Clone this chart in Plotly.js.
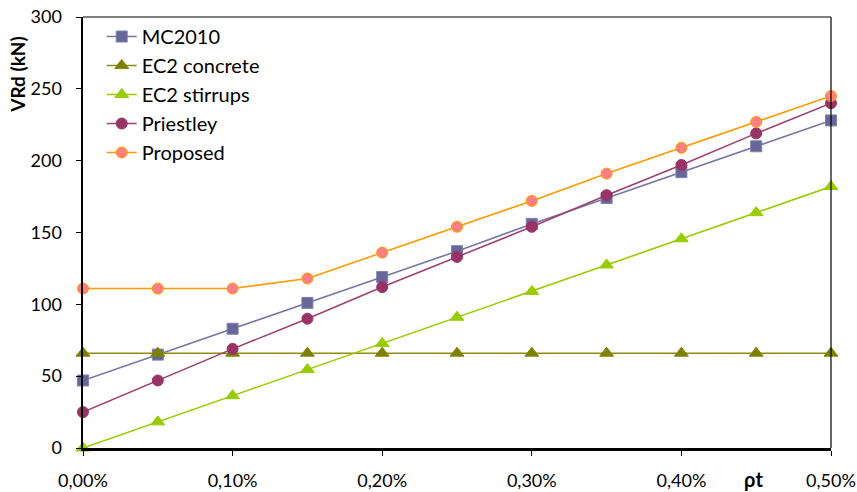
<!DOCTYPE html>
<html><head><meta charset="utf-8">
<script src="https://cdn.plot.ly/plotly-3.0.1.min.js"></script>
<style>body{margin:0;background:#fff}#chart{width:857px;height:492px}</style>
</head><body><div id="chart"></div>
<script>
const rho = [0, 0.05, 0.10, 0.15, 0.20, 0.25, 0.30, 0.35, 0.40, 0.45, 0.50];
const mc2010 = [47, 65, 83, 101, 119, 137, 156, 174, 192, 210, 228];
const ec2Concrete = [66, 66, 66, 66, 66, 66, 66, 66, 66, 66, 66];
const ec2Stirrups = [0, 18.2, 36.4, 54.6, 72.8, 91, 109, 127.4, 145.6, 163.8, 182];
const priestley = [25, 47, 69, 90, 112, 133, 154, 176, 197, 219, 240];
const proposed = [111, 111, 111, 118, 136, 154, 172, 191, 209, 227, 245];
const xTickVals = [0, 0.1, 0.2, 0.3, 0.4, 0.5];
const xTickText = ["0,00%", "0,10%", "0,20%", "0,30%", "0,40%", "0,50%"];
const yTickVals = [0, 50, 100, 150, 200, 250, 300];

const FONT = "Lato, 'Open Sans', sans-serif";
function tr(name, y, lineColor, sym, fill, border) {
  return {x: rho, y: y, name: name, type: "scatter", mode: "lines+markers",
    line: {color: lineColor, width: 1.6},
    marker: {symbol: sym, size: sym === "triangle-up" ? 12 : 11, color: fill, line: {color: border, width: 1}},
    cliponaxis: false};
}
const data = [
  tr("MC2010", mc2010, "#7676a8", "square", "#666699", "#8080b0"),
  tr("EC2 concrete", ec2Concrete, "#8c8c1a", "triangle-up", "#808000", "#808000"),
  tr("EC2 stirrups", ec2Stirrups, "#99cc00", "triangle-up", "#99cc00", "#99cc00"),
  tr("Priestley", priestley, "#a0406f", "circle", "#993366", "#993366"),
  tr("Proposed", proposed, "#ff9900", "circle", "#ff8080", "#ff9900")
];
const layout = {
  width: 857, height: 492,
  margin: {l: 83, r: 26, t: 17, b: 44},
  paper_bgcolor: "#fff", plot_bgcolor: "#fff",
  font: {family: FONT, size: 18, color: "#000"},
  showlegend: true,
  legend: {x: 0.025, y: 1.0, xanchor: "left", yanchor: "top", bgcolor: "rgba(0,0,0,0)",
    font: {family: FONT, size: 20, color: "#000"}, tracegroupgap: 0},
  xaxis: {range: [0, 0.5], tickvals: xTickVals, ticktext: xTickText,
    showgrid: false, zeroline: false, showline: true, linecolor: "#000", linewidth: 2.5,
    ticks: "outside", ticklen: 5, tickwidth: 1, tickcolor: "#000",
    ticklabelstandoff: 10, tickfont: {family: FONT, size: 18}},
  yaxis: {range: [0, 300], tickvals: yTickVals,
    showgrid: false, zeroline: false, showline: true, linecolor: "#000", linewidth: 2.5,
    ticks: "outside", ticklen: 5, tickwidth: 1, tickcolor: "#000",
    ticklabelstandoff: 10, tickfont: {family: FONT, size: 18}},
  shapes: [
    {type: "line", xref: "paper", yref: "paper", x0: 0, x1: 1, y0: 1, y1: 1, line: {color: "#000", width: 1.2}},
    {type: "line", xref: "paper", yref: "paper", x0: 1, x1: 1, y0: 0, y1: 1, line: {color: "#000", width: 1.2}}
  ],
  annotations: [
    {text: "<b>VRd (kN)</b>", xref: "paper", yref: "paper", x: -0.087, y: 0.868, textangle: -90,
      showarrow: false, xanchor: "center", yanchor: "middle", font: {family: FONT, size: 19}},
    {text: "<b>ρt</b>", xref: "paper", yref: "paper", x: 0.897, y: -0.072, showarrow: false,
      xanchor: "center", yanchor: "middle", font: {family: FONT, size: 20}}
  ]
};
Plotly.newPlot("chart", data, layout, {displayModeBar: false, staticPlot: true});
</script></body></html>
